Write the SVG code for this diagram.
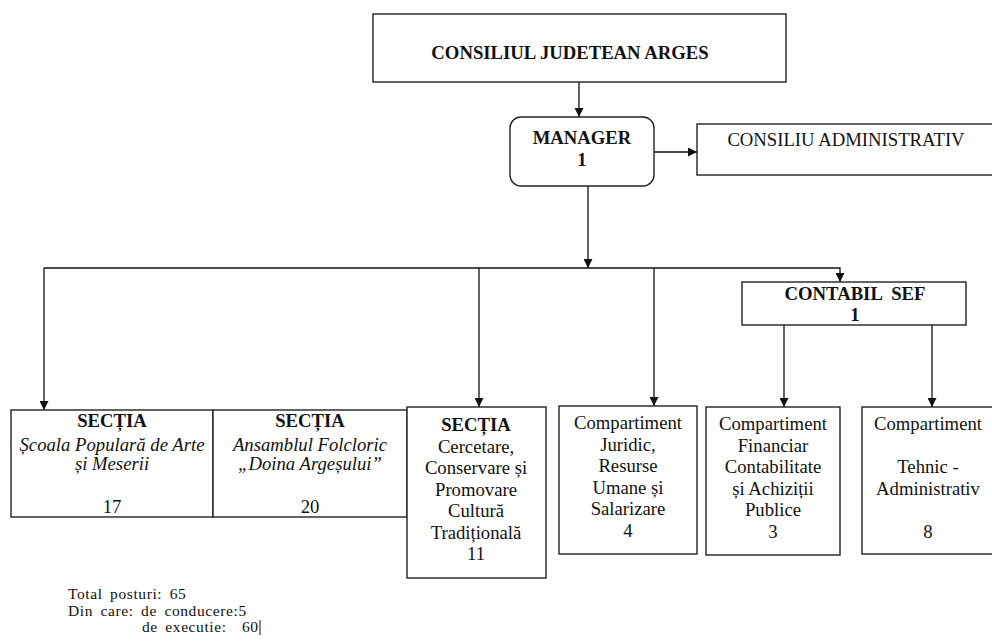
<svg xmlns="http://www.w3.org/2000/svg" width="992" height="644" viewBox="0 0 992 644">
<style>
text{font-family:"Liberation Serif","Times New Roman",serif;font-size:18.7px;fill:#111;text-anchor:middle}
.b{font-weight:bold}
.i{font-style:italic}
.box{fill:#fff;stroke:#222;stroke-width:1.4}
.c{fill:none;stroke:#111;stroke-width:1.3}
.note{text-anchor:start;font-size:15.5px;letter-spacing:0.6px;word-spacing:3px}
</style>
<defs>
<marker id="ah" viewBox="0 0 10 10" refX="10" refY="5" markerWidth="9" markerHeight="9" markerUnits="userSpaceOnUse" orient="auto">
<path d="M0,0 L10,5 L0,10 z" fill="#111"/>
</marker>
</defs>
<rect width="992" height="644" fill="#fff"/>
<g id="connectors">
<path class="c" d="M579,82 V117" marker-end="url(#ah)"/>
<path class="c" d="M654,152 H697" marker-end="url(#ah)"/>
<path class="c" d="M588,186 V268" marker-end="url(#ah)"/>
<path class="c" d="M44,268 H840 V282" marker-end="url(#ah)"/>
<path class="c" d="M44,268 V410" marker-end="url(#ah)"/>
<path class="c" d="M479,268 V407" marker-end="url(#ah)"/>
<path class="c" d="M654,268 V406" marker-end="url(#ah)"/>
<path class="c" d="M784,325 V407" marker-end="url(#ah)"/>
<path class="c" d="M932,325 V407" marker-end="url(#ah)"/>
</g>
<g id="consiliul-judetean">
<rect class="box" x="373" y="14" width="413" height="68"/>
<text class="b" x="570" y="59">CONSILIUL JUDETEAN ARGES</text>
</g>
<g id="manager">
<rect class="box" x="510" y="117" width="144" height="69" rx="11"/>
<text class="b" x="582" y="144">MANAGER</text>
<text class="b" x="582" y="166">1</text>
</g>
<g id="consiliu-administrativ">
<rect class="box" x="697" y="124" width="300" height="51"/>
<text x="846" y="146">CONSILIU ADMINISTRATIV</text>
</g>
<g id="contabil-sef">
<rect class="box" x="742" y="282" width="224" height="43"/>
<text class="b" x="855" y="300" style="white-space:pre">CONTABIL  SEF</text>
<text class="b" x="855" y="321">1</text>
</g>
<g id="sectia-scoala">
<rect class="box" x="11" y="410" width="202" height="107"/>
<text class="b" x="112" y="427">SECȚIA</text>
<text class="i" x="112" y="451">Școala Populară de Arte</text>
<text class="i" x="112" y="470">și Meserii</text>
<text x="112" y="513">17</text>
</g>
<g id="sectia-ansamblu">
<rect class="box" x="213" y="410" width="194" height="107"/>
<text class="b" x="310" y="427">SECȚIA</text>
<text class="i" x="310" y="451">Ansamblul Folcloric</text>
<text class="i" x="310" y="470">„Doina Argeșului”</text>
<text x="310" y="513">20</text>
</g>
<g id="sectia-cercetare">
<rect class="box" x="407" y="407" width="139" height="171"/>
<text class="b" x="476" y="431">SECȚIA</text>
<text x="476" y="453">Cercetare,</text>
<text x="476" y="474">Conservare și</text>
<text x="476" y="496">Promovare</text>
<text x="476" y="517">Cultură</text>
<text x="476" y="539">Tradițională</text>
<text x="476" y="560">11</text>
</g>
<g id="compartiment-juridic">
<rect class="box" x="559" y="406" width="138" height="148"/>
<text x="628" y="429">Compartiment</text>
<text x="628" y="451">Juridic,</text>
<text x="628" y="472">Resurse</text>
<text x="628" y="494">Umane și</text>
<text x="628" y="515">Salarizare</text>
<text x="628" y="537">4</text>
</g>
<g id="compartiment-financiar">
<rect class="box" x="706" y="407" width="134" height="148"/>
<text x="773" y="430">Compartiment</text>
<text x="773" y="452">Financiar</text>
<text x="773" y="473">Contabilitate</text>
<text x="773" y="495">și Achiziții</text>
<text x="773" y="516">Publice</text>
<text x="773" y="538">3</text>
</g>
<g id="compartiment-tehnic">
<rect class="box" x="862" y="407" width="136" height="147"/>
<text x="928" y="430">Compartiment</text>
<text x="928" y="473">Tehnic -</text>
<text x="928" y="495">Administrativ</text>
<text x="928" y="538">8</text>
</g>
<g id="totals">
<text class="note" x="68" y="599">Total posturi: 65</text>
<text class="note" x="68" y="616">Din care: de conducere:5</text>
<text class="note" x="142" y="632">de executie:<tspan x="242">60</tspan></text>
<line x1="260" y1="620" x2="260" y2="635" stroke="#111" stroke-width="1"/>
</g>
</svg>
